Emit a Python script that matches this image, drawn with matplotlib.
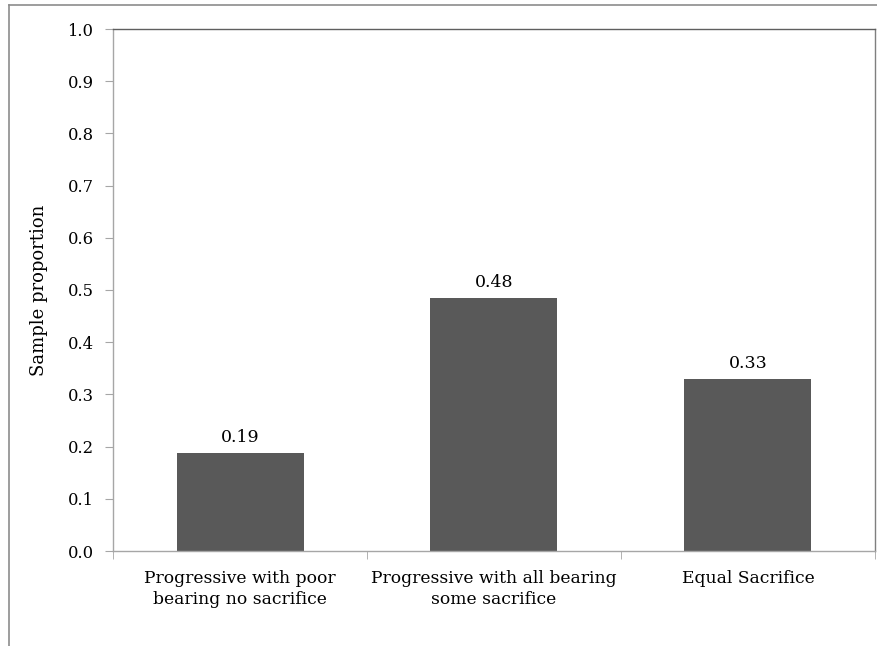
import matplotlib.pyplot as plt
from matplotlib.lines import Line2D
from matplotlib.ticker import FixedLocator, MultipleLocator

categories = [
    "Progressive with poor\nbearing no sacrifice",
    "Progressive with all bearing\nsome sacrifice",
    "Equal Sacrifice",
]
proportions = [0.187, 0.484, 0.329]
value_labels = ["0.19", "0.48", "0.33"]

BAR_COLOR = "#595959"
AXIS_COLOR = "#a6a6a6"
FRAME_COLOR = "#7f7f7f"
FONT = "DejaVu Serif"

W, H = 878, 646
fig = plt.figure(figsize=(W / 100, H / 100), dpi=100)
ax = fig.add_axes([113 / W, 1 - 551 / H, (875 - 113) / W, (551 - 29) / H])

x = list(range(len(categories)))
ax.bar(x, proportions, width=0.5, color=BAR_COLOR, zorder=2)
for xi, v, lab in zip(x, proportions, value_labels):
    ax.annotate(lab, (xi, v), textcoords="offset points", xytext=(0, 5),
                ha="center", va="bottom", fontsize=12.5, family=FONT)

ax.set_xlim(-0.5, len(categories) - 0.5)
ax.set_ylim(0, 1.0)
ax.yaxis.set_major_locator(MultipleLocator(0.1))
ax.set_yticklabels([f"{t:.1f}" for t in ax.get_yticks()], family=FONT, fontsize=11.8)
ax.set_xticks(x)
ax.set_xticklabels(categories, family=FONT, fontsize=12.3, linespacing=1.3)
ax.xaxis.set_minor_locator(FixedLocator([-0.5, 0.5, 1.5, 2.5]))
ax.tick_params(axis="x", which="major", length=0, pad=14)
ax.tick_params(axis="x", which="minor", length=6, color=AXIS_COLOR, direction="out")
ax.tick_params(axis="y", length=6, color=AXIS_COLOR, pad=8)

ax.set_ylabel("Sample proportion", family=FONT, fontsize=13, labelpad=14)

ax.spines["left"].set_color(AXIS_COLOR)
ax.spines["bottom"].set_color(AXIS_COLOR)
ax.spines["top"].set_color("#5f5f5f")
ax.spines["right"].set_color(FRAME_COLOR)
for s in ax.spines.values():
    s.set_linewidth(1.0)

# outer chart border (only top and left edges are visible in the crop)
fig.add_artist(Line2D([8.5 / W, 8.5 / W], [0, 1 - 4.5 / H], color="#8c8c8c",
                      linewidth=1.2, transform=fig.transFigure))
fig.add_artist(Line2D([8.5 / W, 1], [1 - 4.5 / H, 1 - 4.5 / H], color="#8c8c8c",
                      linewidth=1.2, transform=fig.transFigure))

fig.savefig("out.png", dpi=100)
